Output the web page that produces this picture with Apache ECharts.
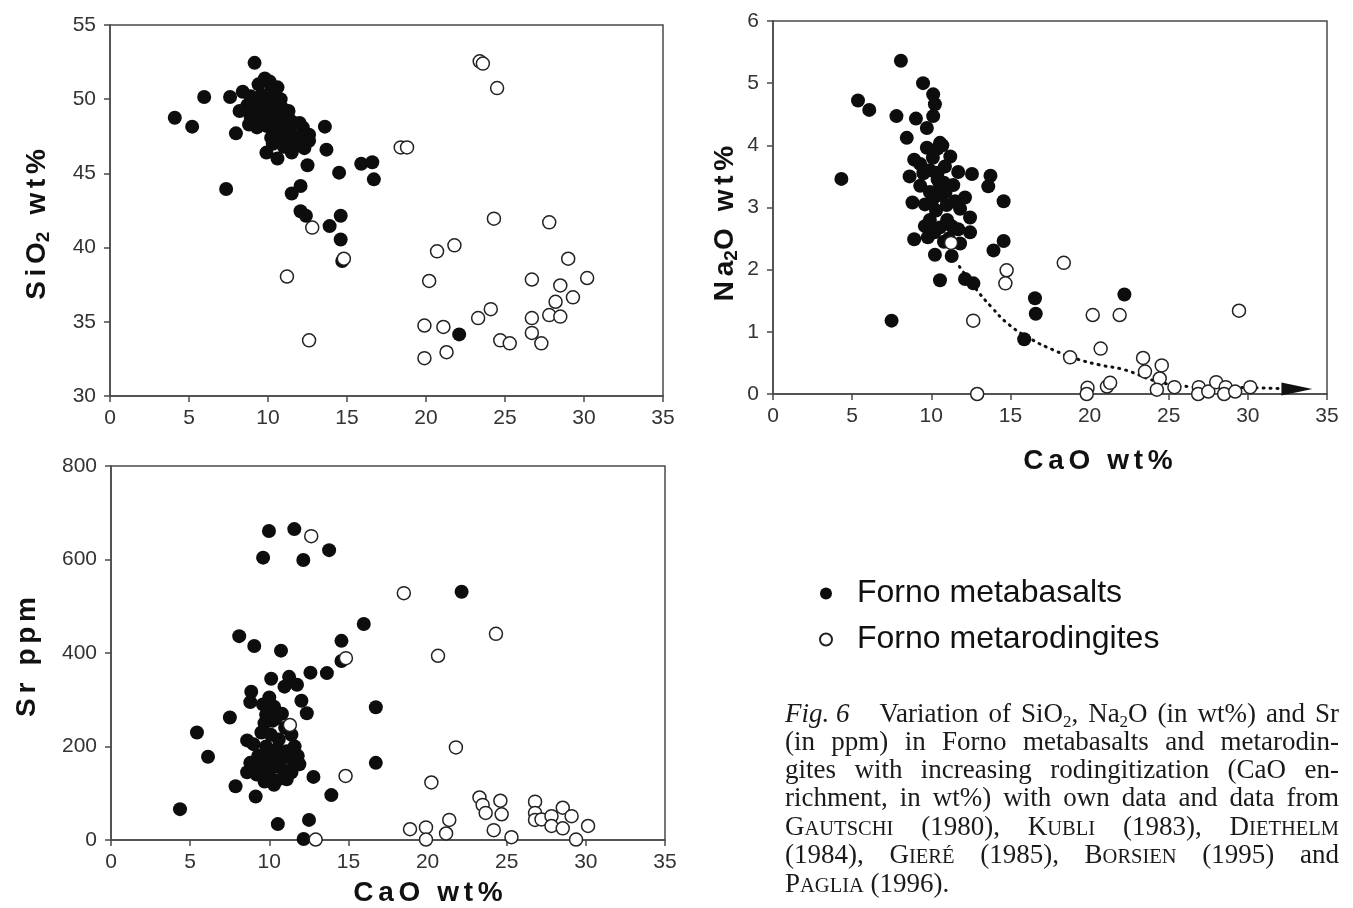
<!DOCTYPE html>
<html><head><meta charset="utf-8">
<script src="https://cdn.jsdelivr.net/npm/echarts@6/dist/echarts.min.js"></script>
<style>html,body{margin:0;padding:0;background:#fff}#c{width:1353px;height:908px}</style>
</head><body><div id="c"></div>
<script>
// ---------- data (CaO wt%, value) ----------
const sio2Metabasalts = [
 [9.15,52.45],[5.96,50.15],[4.1,48.75],[5.2,48.15],[7.6,50.15],[7.97,47.7],[7.35,43.95],[13.6,48.15],[13.7,46.6],[12.5,45.55],
 [14.5,45.05],[15.9,45.65],[16.6,45.75],[16.7,44.6],[12.06,44.15],[11.5,43.65],[12.06,42.45],[12.4,42.15],[14.6,42.15],[13.9,41.45],
 [14.6,40.55],[14.7,39.1],[22.1,34.15],
 [8.4,50.5],[8.9,50.2],[9.4,51.0],[9.8,51.4],[10.2,50.9],[10.6,50.8],[9.1,49.8],[9.6,50.3],[10.0,50.0],[10.4,50.3],[10.8,50.0],
 [8.7,49.6],[9.3,49.3],[9.8,49.5],[10.3,49.6],[10.9,49.4],[11.3,49.2],[8.9,48.8],[9.5,48.7],[10.0,48.9],[10.5,48.8],[11.0,48.6],
 [11.5,48.5],[12.0,48.4],[9.3,48.1],[9.9,48.2],[10.4,48.0],[10.9,47.9],[11.4,47.8],[12.2,48.1],[12.6,47.6],[10.2,47.4],[10.8,47.3],
 [11.3,47.2],[11.8,47.4],[12.6,47.2],[9.9,46.4],[10.6,46.0],[11.5,46.4],[11.9,46.9],[8.2,49.2],[10.1,51.2],[9.6,49.9],[10.7,49.9],
 [11.1,48.1],[10.3,47.0],[11.0,46.8],[12.3,46.7],[9.0,49.2],[8.8,48.3]
];
const sio2Metarodingites = [
 [12.8,41.35],[14.8,39.25],[11.2,38.05],[12.6,33.75],[23.4,52.55],[23.6,52.4],[24.5,50.75],[18.4,46.75],[18.8,46.75],[24.3,41.95],
 [27.8,41.7],[20.7,39.75],[21.8,40.15],[29.0,39.25],[20.2,37.75],[26.7,37.85],[30.2,37.95],[28.5,37.45],[29.3,36.65],[28.2,36.35],
 [24.1,35.85],[23.3,35.25],[26.7,35.25],[27.8,35.45],[28.5,35.35],[19.9,34.75],[21.1,34.65],[26.7,34.25],[24.7,33.75],[25.3,33.55],
 [27.3,33.55],[21.3,32.95],[19.9,32.55]
];
const na2oMetabasalts = [
 [8.08,5.36],[9.48,5.0],[10.12,4.82],[10.23,4.66],[10.12,4.47],[9.72,4.28],[9.03,4.43],[7.8,4.47],[5.37,4.72],[6.08,4.57],
 [8.45,4.12],[10.55,4.04],[9.72,3.96],[8.92,3.77],[11.2,3.82],[8.63,3.5],[9.5,3.55],[10.4,3.56],[10.86,3.66],[11.7,3.57],
 [12.57,3.54],[13.74,3.51],[13.6,3.34],[11.39,3.36],[10.55,3.36],[10.12,3.14],[8.81,3.08],[14.57,3.1],[12.13,3.16],[11.82,2.98],
 [10.97,3.04],[12.45,2.84],[9.91,2.8],[10.55,2.68],[11.29,2.7],[8.92,2.49],[9.78,2.52],[12.45,2.6],[11.82,2.42],[13.93,2.31],
 [14.57,2.46],[10.23,2.24],[11.29,2.22],[10.55,1.83],[12.13,1.85],[12.66,1.78],[16.55,1.54],[16.6,1.29],[15.87,0.88],[22.2,1.6],
 [4.32,3.46],[7.49,1.18],[9.91,3.25],[10.55,3.2],[10.9,3.25],[10.3,2.95],[9.6,3.05],[9.3,3.35],[11.0,2.8],[9.6,2.7],
 [11.1,2.5],[11.7,2.65],[10.8,2.45],[10.4,3.45],[10.1,3.8],[10.4,3.95],[9.9,3.6],[10.8,3.4],[11.5,3.1],[10.2,2.6],[9.3,3.7],[10.7,4.0]
];
const na2oMetarodingites = [
 [11.25,2.43],[14.76,1.99],[14.68,1.78],[18.37,2.11],[12.65,1.18],[20.2,1.27],[21.9,1.27],[29.44,1.34],[20.7,0.73],[18.77,0.59],
 [23.38,0.58],[23.5,0.36],[24.56,0.46],[24.43,0.25],[24.25,0.07],[25.36,0.11],[12.9,0.0],[19.87,0.10],[19.82,0.0],[21.1,0.12],
 [21.3,0.18],[26.9,0.11],[26.86,0.0],[27.5,0.04],[28.0,0.19],[28.6,0.11],[28.5,0.0],[29.2,0.04],[30.15,0.11]
];
const trendCaO   = [11.78,12.7,13.76,14.94,16.4,17.7,19.0,20.6,22.2,24.3,26.4,30.4,33.1];
const trendNa2O  = [2.05,1.73,1.41,1.11,0.87,0.71,0.58,0.47,0.39,0.20,0.12,0.10,0.08];
const srMetabasalts = [
 [9.98,661],[11.58,665],[9.61,604],[12.15,599],[13.78,620],[22.15,531],[15.97,462],[8.1,436],[9.05,415],[14.56,426],
 [10.74,405],[14.56,383],[10.12,345],[11.25,349],[11.75,332],[10.96,328],[12.6,358],[13.64,357],[8.86,317],[12.03,298],
 [12.37,271],[16.73,284],[7.51,262],[5.43,230],[6.13,178],[16.73,165],[7.87,115],[9.14,93],[12.79,135],[13.92,96],
 [4.36,66],[10.54,34],[12.51,43],[12.17,2],
 [8.8,295],[9.6,290],[10.3,285],[10.8,270],[9.7,250],[10.2,255],[11.0,240],[9.5,230],[10.1,225],[10.6,215],
 [11.4,225],[11.6,200],[8.6,213],[9.0,205],[9.8,200],[10.5,195],[11.1,190],[9.3,180],[10.0,175],[10.7,170],
 [11.5,170],[11.8,180],[8.8,165],[9.5,160],[10.2,155],[10.9,150],[11.4,145],[8.6,145],[9.2,140],[9.9,135],
 [10.5,128],[11.1,130],[10.3,118],[9.7,125],[11.6,160],[11.9,162],[10.4,260],[10.0,305],[9.8,268]
];
const srMetarodingites = [
 [12.65,650],[18.5,528],[24.32,441],[20.66,394],[14.84,389],[11.3,246],[21.79,198],[14.82,137],[20.24,123],[23.28,91],
 [23.48,75],[23.67,58],[24.6,84],[24.68,55],[21.37,43],[21.17,14],[18.89,23],[19.9,27],[19.9,1],[24.18,21],
 [25.3,6],[26.79,82],[26.79,58],[26.79,43],[27.2,44],[27.83,51],[27.83,30],[28.54,69],[28.54,25],[29.1,51],
 [29.38,1],[30.14,30],[12.93,1]
];
const seriesNames = ['Forno metabasalts','Forno metarodingites'];
const captionLines = [
 ['*Fig. 6','Variation','of','SiO~2~,','Na~2~O','(in','wt%)','and','Sr'],
 ['(in','ppm)','in','Forno','metabasalts','and','metarodin-'],
 ['gites','with','increasing','rodingitization','(CaO','en-'],
 ['richment,','in','wt%)','with','own','data','and','data','from'],
 ['G^AUTSCHI^','(1980),','K^UBLI^','(1983),','D^IETHELM^'],
 ['(1984),','G^IERÉ^','(1985),','B^ORSIEN^','(1995)','and'],
 ['P^AGLIA^','(1996).']
];
const captionBaselines = [723,751,779,807,836,864,893];

// ---------- helpers ----------
const H = '\u200A';
const SANS = "'Liberation Sans', Arial, sans-serif";
const axisColor = '#4a4a4a';
function xAx(grid){
  return {gridIndex:grid,type:'value',min:0,max:35,interval:5,
    axisLine:{show:true,onZero:false,lineStyle:{color:axisColor,width:1.5}},
    axisTick:{show:true,inside:false,length:6,lineStyle:{color:axisColor,width:1.5}},
    axisLabel:{fontSize:21,color:'#333',fontFamily:SANS,margin:12},
    splitLine:{show:false}};
}
function yAx(grid,min,max,interval){
  return {gridIndex:grid,type:'value',min:min,max:max,interval:interval,
    axisLine:{show:true,onZero:false,lineStyle:{color:axisColor,width:1.5}},
    axisTick:{show:true,inside:false,length:6,lineStyle:{color:axisColor,width:1.5}},
    axisLabel:{fontSize:21,color:'#333',fontFamily:SANS,margin:14},
    splitLine:{show:false}};
}
const nameRich = {
  n:{fontSize:28,fontWeight:'bold',fontFamily:SANS,color:'#111',lineHeight:32},
  s:{fontSize:19,fontWeight:'bold',fontFamily:SANS,color:'#111',lineHeight:15,verticalAlign:'bottom'}
};
function spaced(str){ return str.split('').join(H+H); }
const WS = H+H+' '+H+H;

const xAxes=[xAx(0),xAx(1),xAx(2)];
xAxes[1].name='{n|'+spaced('CaO')+WS+spaced('wt%')+'}';
xAxes[1].nameLocation='middle'; xAxes[1].nameGap=51;
xAxes[1].nameTextStyle={rich:nameRich,padding:[0,0,0,96]};
xAxes[2].name='{n|'+spaced('CaO')+WS+spaced('wt%')+'}';
xAxes[2].nameLocation='middle'; xAxes[2].nameGap=37;
xAxes[2].nameTextStyle={rich:nameRich,padding:[0,0,0,80]};

const yAxes=[yAx(0,30,55,5),yAx(1,0,6,1),yAx(2,0,800,200)];
yAxes[0].name='{n|'+spaced('SiO')+'}{s|2}{n|'+WS+spaced('wt%')+'}';
yAxes[0].nameLocation='middle'; yAxes[0].nameGap=57;
yAxes[0].nameTextStyle={rich:nameRich,padding:[0,28,0,0]};
yAxes[1].name='{n|'+spaced('Na')+'}{s|2}{n|O'+WS+spaced('wt%')+'}';
yAxes[1].nameLocation='middle'; yAxes[1].nameGap=32;
yAxes[1].nameTextStyle={rich:nameRich,padding:[0,32,0,0]};
yAxes[2].name='{n|'+spaced('Sr')+WS+spaced('ppm')+'}';
yAxes[2].nameLocation='middle'; yAxes[2].nameGap=68;
yAxes[2].nameTextStyle={rich:nameRich,padding:[0,8,0,0]};

const filledStyle={color:'#0d0d0d',opacity:1};
const openStyle={color:'#fff',borderColor:'#222',borderWidth:1.5,opacity:1};
function sc(name,grid,data,open){
  return {type:'scatter',name:name,xAxisIndex:grid,yAxisIndex:grid,data:data,
    symbol:'circle',symbolSize:open?13:14,itemStyle:open?openStyle:filledStyle,z:open?4:3};
}

const trendData = trendCaO.map((x,i)=>[x,trendNa2O[i]]);
const lastT = trendData.length-1;
const trendSeries = {type:'line',name:'trend',xAxisIndex:1,yAxisIndex:1,smooth:true,
  symbol:'none',showSymbol:true,z:2,
  lineStyle:{color:'#111',width:3,type:[1,6],cap:'round'},
  data:trendData.map((d,i)=> i===lastT ? {value:d,symbol:'triangle',symbolSize:[13,31],symbolRotate:-90,itemStyle:{color:'#111'}} : {value:d})
};

// ---------- caption (justified text) ----------
const cctx=document.createElement('canvas').getContext('2d');
const cfont={n:"27px 'Liberation Serif'",i:"italic 27px 'Liberation Serif'",sc:"20.5px 'Liberation Serif'",sub:"17px 'Liberation Serif'"};
const csize={n:27,i:27,sc:20.5,sub:17};
const cyoff={n:0,i:0,sc:0,sub:5};
function segs(word){
  let italic=false; if(word[0]==='*'){italic=true;word=word.slice(1);}
  const out=[]; let mode='n', buf='';
  for(const ch of word){
    if(ch==='~'){ if(buf) out.push([mode,buf]); buf=''; mode=mode==='sub'?'n':'sub'; }
    else if(ch==='^'){ if(buf) out.push([mode,buf]); buf=''; mode=mode==='sc'?'n':'sc'; }
    else buf+=ch;
  }
  if(buf) out.push([mode,buf]);
  if(italic) out.forEach(s=>{ if(s[0]==='n') s[0]='i'; });
  return out;
}
function mw(k,t){ cctx.font=cfont[k]; return cctx.measureText(t).width; }
const capLeft=785, capRight=1339;
const graphics=[];
captionLines.forEach((line,li)=>{
  const words=line.map(segs);
  const widths=words.map(w=>w.reduce((a,s)=>a+mw(s[0],s[1]),0));
  const total=widths.reduce((a,b)=>a+b,0);
  const extra = li===0 ? 20 : 0;
  let gap = (li===captionLines.length-1) ? mw('n',' ') : (capRight-capLeft-total-extra)/(words.length-1);
  let x=capLeft;
  const base=captionBaselines[li];
  words.forEach((w,wi)=>{
    let sx=x;
    w.forEach(s=>{
      graphics.push({type:'text',x:sx,y:base+cyoff[s[0]]-0.305*csize[s[0]],silent:true,
        style:{text:s[1],font:cfont[s[0]],fill:'#1a1a1a',textAlign:'left',textVerticalAlign:'middle',align:'left',verticalAlign:'middle'}});
      sx+=mw(s[0],s[1]);
    });
    x+=widths[wi]+gap+(wi===0?extra:0);
  });
});

const chart=echarts.init(document.getElementById('c'),null,{renderer:'canvas'});
chart.setOption({
  animation:false,
  backgroundColor:'#ffffff',
  grid:[
    {left:110,top:25,width:553,height:371,show:true,borderColor:axisColor,borderWidth:1.5,backgroundColor:'transparent'},
    {left:773,top:21,width:554,height:373,show:true,borderColor:axisColor,borderWidth:1.5,backgroundColor:'transparent'},
    {left:111,top:466,width:554,height:374,show:true,borderColor:axisColor,borderWidth:1.5,backgroundColor:'transparent'}
  ],
  xAxis:xAxes,
  yAxis:yAxes,
  legend:{data:[{name:seriesNames[0],icon:'circle'},{name:seriesNames[1],icon:'circle'}],
    orient:'vertical',left:814,top:572,itemWidth:52,itemHeight:12,itemGap:13,
    textStyle:{fontSize:32,fontFamily:SANS,color:'#111',lineHeight:33},
    selectedMode:false},
  series:[
    sc(seriesNames[0],0,sio2Metabasalts,false),
    sc(seriesNames[1],0,sio2Metarodingites,true),
    trendSeries,
    sc(seriesNames[0],1,na2oMetabasalts,false),
    sc(seriesNames[1],1,na2oMetarodingites,true),
    sc(seriesNames[0],2,srMetabasalts,false),
    sc(seriesNames[1],2,srMetarodingites,true)
  ],
  graphic:graphics
});
</script></body></html>
